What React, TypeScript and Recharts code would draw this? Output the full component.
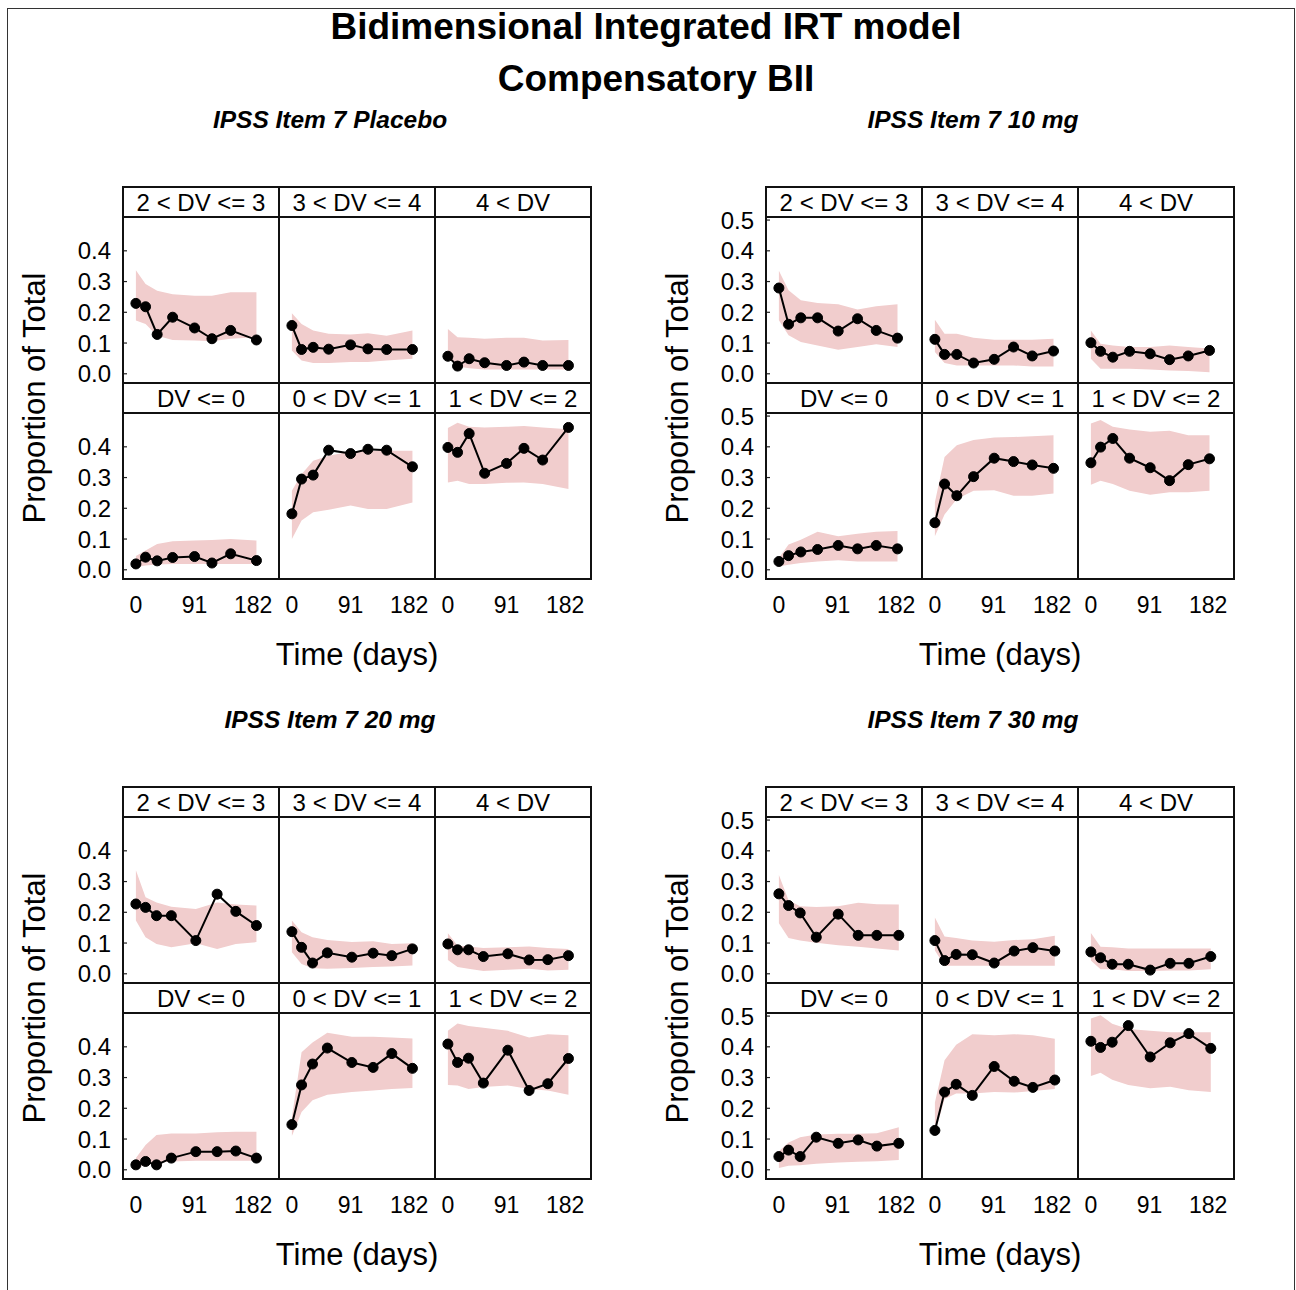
import React from "react";
import { Area, ComposedChart, Line, XAxis, YAxis } from "recharts";

const FONT = "Arial, 'Liberation Sans', sans-serif";
const PINK = "#f1cdcd";

const categories = ["2 < DV <= 3", "3 < DV <= 4", "4 < DV", "DV <= 0", "0 < DV <= 1", "1 < DV <= 2"];
const panelTitles = ["IPSS Item 7 Placebo", "IPSS Item 7 10 mg", "IPSS Item 7 20 mg", "IPSS Item 7 30 mg"];
const xTicks = [0, 91, 182];
const yTicks4 = [0, 0.1, 0.2, 0.3, 0.4];
const yTicks5 = [0, 0.1, 0.2, 0.3, 0.4, 0.5];

// visit times (days) per panel
const timesPlacebo = [0, 15, 33, 57, 91, 118, 147, 187];
const times10 = [0, 15, 34, 60, 92, 122, 151, 184];
const times20 = [0, 15, 32, 55, 93, 126, 155, 187];
const times30 = [0, 15, 33, 58, 92, 123, 152, 186];

// observed proportions, one row per category (order as in categories)
const obsPlacebo = [
  [0.229, 0.218, 0.128, 0.184, 0.149, 0.114, 0.141, 0.11],
  [0.157, 0.079, 0.086, 0.08, 0.094, 0.081, 0.079, 0.079],
  [0.057, 0.025, 0.049, 0.036, 0.027, 0.038, 0.027, 0.027],
  [0.019, 0.041, 0.029, 0.04, 0.043, 0.022, 0.052, 0.03],
  [0.182, 0.295, 0.308, 0.389, 0.378, 0.392, 0.389, 0.335],
  [0.398, 0.382, 0.443, 0.314, 0.346, 0.395, 0.357, 0.463],
];
const loPlacebo = [
  [0.173, 0.162, 0.124, 0.11, 0.108, 0.106, 0.114, 0.119],
  [0.076, 0.043, 0.035, 0.035, 0.038, 0.038, 0.043, 0.049],
  [0.054, 0.024, 0.018, 0.014, 0.014, 0.014, 0.014, 0.014],
  [0.009, 0.014, 0.017, 0.019, 0.019, 0.019, 0.019, 0.019],
  [0.1, 0.16, 0.187, 0.195, 0.209, 0.198, 0.198, 0.219],
  [0.284, 0.29, 0.279, 0.279, 0.283, 0.284, 0.279, 0.263],
];
const hiPlacebo = [
  [0.337, 0.292, 0.27, 0.259, 0.254, 0.254, 0.265, 0.265],
  [0.197, 0.162, 0.141, 0.13, 0.128, 0.132, 0.124, 0.141],
  [0.146, 0.119, 0.117, 0.114, 0.117, 0.117, 0.108, 0.11],
  [0.045, 0.063, 0.084, 0.093, 0.095, 0.097, 0.1, 0.095],
  [0.257, 0.311, 0.355, 0.371, 0.385, 0.387, 0.387, 0.387],
  [0.461, 0.478, 0.465, 0.463, 0.465, 0.468, 0.463, 0.457],
];

const obs10 = [
  [0.279, 0.161, 0.182, 0.182, 0.139, 0.179, 0.141, 0.116],
  [0.112, 0.063, 0.063, 0.035, 0.047, 0.087, 0.058, 0.074],
  [0.101, 0.073, 0.054, 0.073, 0.065, 0.046, 0.058, 0.076],
  [0.027, 0.046, 0.058, 0.066, 0.079, 0.068, 0.079, 0.068],
  [0.153, 0.279, 0.241, 0.303, 0.363, 0.352, 0.341, 0.33],
  [0.348, 0.399, 0.427, 0.363, 0.332, 0.29, 0.342, 0.361],
];
const lo10 = [
  [0.174, 0.125, 0.103, 0.092, 0.078, 0.087, 0.096, 0.087],
  [0.071, 0.035, 0.027, 0.027, 0.027, 0.027, 0.024, 0.024],
  [0.049, 0.016, 0.016, 0.016, 0.014, 0.011, 0.009, 0.005],
  [0.011, 0.016, 0.022, 0.027, 0.031, 0.027, 0.027, 0.027],
  [0.109, 0.18, 0.23, 0.257, 0.259, 0.241, 0.241, 0.248],
  [0.277, 0.29, 0.279, 0.257, 0.244, 0.252, 0.252, 0.257],
];
const hi10 = [
  [0.335, 0.272, 0.239, 0.23, 0.226, 0.209, 0.22, 0.226],
  [0.176, 0.13, 0.13, 0.117, 0.111, 0.111, 0.111, 0.114],
  [0.141, 0.098, 0.092, 0.087, 0.087, 0.092, 0.087, 0.082],
  [0.038, 0.082, 0.098, 0.124, 0.109, 0.117, 0.124, 0.126],
  [0.22, 0.367, 0.405, 0.422, 0.43, 0.432, 0.434, 0.438],
  [0.476, 0.487, 0.465, 0.456, 0.449, 0.452, 0.438, 0.438],
];

const obs20 = [
  [0.227, 0.216, 0.189, 0.189, 0.108, 0.259, 0.203, 0.157],
  [0.137, 0.086, 0.035, 0.068, 0.054, 0.067, 0.059, 0.081],
  [0.097, 0.078, 0.078, 0.056, 0.065, 0.045, 0.046, 0.059],
  [0.016, 0.027, 0.016, 0.038, 0.059, 0.059, 0.061, 0.038],
  [0.147, 0.276, 0.344, 0.396, 0.349, 0.333, 0.378, 0.33],
  [0.409, 0.349, 0.363, 0.282, 0.389, 0.258, 0.28, 0.362],
];
const lo20 = [
  [0.173, 0.119, 0.097, 0.086, 0.099, 0.081, 0.097, 0.103],
  [0.07, 0.032, 0.018, 0.016, 0.019, 0.022, 0.024, 0.027],
  [0.045, 0.022, 0.016, 0.009, 0.013, 0.016, 0.011, 0.013],
  [0.008, 0.016, 0.022, 0.027, 0.029, 0.029, 0.029, 0.029],
  [0.11, 0.188, 0.226, 0.244, 0.253, 0.258, 0.263, 0.266],
  [0.276, 0.274, 0.263, 0.269, 0.274, 0.263, 0.258, 0.244],
];
const hi20 = [
  [0.337, 0.249, 0.232, 0.218, 0.211, 0.232, 0.225, 0.222],
  [0.173, 0.135, 0.119, 0.11, 0.103, 0.106, 0.097, 0.099],
  [0.132, 0.092, 0.089, 0.084, 0.086, 0.089, 0.084, 0.081],
  [0.038, 0.081, 0.113, 0.118, 0.118, 0.122, 0.124, 0.124],
  [0.17, 0.382, 0.414, 0.446, 0.433, 0.433, 0.43, 0.427],
  [0.452, 0.476, 0.468, 0.462, 0.452, 0.43, 0.441, 0.438],
];

const obs30 = [
  [0.26, 0.222, 0.198, 0.119, 0.194, 0.125, 0.125, 0.125],
  [0.108, 0.043, 0.063, 0.062, 0.035, 0.074, 0.085, 0.074],
  [0.071, 0.052, 0.031, 0.031, 0.012, 0.034, 0.034, 0.056],
  [0.043, 0.064, 0.043, 0.106, 0.086, 0.097, 0.077, 0.086],
  [0.128, 0.253, 0.278, 0.242, 0.336, 0.288, 0.268, 0.292],
  [0.418, 0.398, 0.415, 0.469, 0.367, 0.413, 0.443, 0.395],
];
const lo30 = [
  [0.164, 0.116, 0.108, 0.101, 0.093, 0.088, 0.082, 0.076],
  [0.076, 0.026, 0.026, 0.026, 0.026, 0.026, 0.026, 0.026],
  [0.043, 0.015, 0.015, 0.009, 0.009, 0.011, 0.011, 0.015],
  [0.006, 0.013, 0.015, 0.02, 0.024, 0.026, 0.028, 0.032],
  [0.117, 0.23, 0.248, 0.248, 0.253, 0.251, 0.256, 0.263],
  [0.305, 0.316, 0.293, 0.276, 0.265, 0.27, 0.259, 0.253],
];
const hi30 = [
  [0.321, 0.239, 0.22, 0.217, 0.22, 0.231, 0.226, 0.225],
  [0.183, 0.121, 0.116, 0.108, 0.104, 0.11, 0.112, 0.124],
  [0.133, 0.088, 0.086, 0.082, 0.082, 0.082, 0.082, 0.082],
  [0.06, 0.089, 0.106, 0.115, 0.117, 0.117, 0.119, 0.138],
  [0.219, 0.356, 0.407, 0.441, 0.438, 0.441, 0.438, 0.426],
  [0.492, 0.503, 0.475, 0.458, 0.452, 0.447, 0.447, 0.447],
];

const panels = [
  { title: panelTitles[0], gx: 123, gy: 187, times: timesPlacebo, obs: obsPlacebo, lo: loPlacebo, hi: hiPlacebo, yTicks: yTicks4 },
  { title: panelTitles[1], gx: 766, gy: 187, times: times10, obs: obs10, lo: lo10, hi: hi10, yTicks: yTicks5 },
  { title: panelTitles[2], gx: 123, gy: 787, times: times20, obs: obs20, lo: lo20, hi: hi20, yTicks: yTicks4 },
  { title: panelTitles[3], gx: 766, gy: 787, times: times30, obs: obs30, lo: lo30, hi: hi30, yTicks: yTicks5 },
];

const COL_W = 156;
const STRIP_H = 30;
const PLOT_H = 166;
const YAX_W = 60;
const XAX_H = 40;
const X_DOMAIN = [-20, 222];
const Y_DOMAIN = [-0.03, 0.51];
const tickStyle = { fontSize: 23, fill: "#000", fontFamily: FONT };

function Cell({ data, left, bottom, yTicks, x, y }: any) {
  const w = COL_W + (left ? YAX_W : 0);
  const h = PLOT_H + (bottom ? XAX_H : 0);
  return (
    <div style={{ position: "absolute", left: x - (left ? YAX_W : 0), top: y }}>
      <ComposedChart width={w} height={h} data={data} margin={{ top: 0, right: 0, bottom: 0, left: 0 }}>
        <XAxis
          dataKey="t"
          type="number"
          domain={X_DOMAIN}
          ticks={xTicks}
          hide={!bottom}
          height={XAX_H}
          tickLine={false}
          axisLine={false}
          tickMargin={12}
          tick={tickStyle}
          interval={0}
        />
        <YAxis
          type="number"
          domain={Y_DOMAIN}
          ticks={yTicks}
          hide={!left}
          width={YAX_W}
          tickLine={{ stroke: "#222", strokeWidth: 1.2 }}
          tickSize={-4}
          axisLine={false}
          tickMargin={16}
          tick={{ ...tickStyle, fontSize: 24 }}
          interval={0}
          tickFormatter={(v: number) => v.toFixed(1)}
        />
        <Area dataKey="band" type="linear" fill={PINK} fillOpacity={1} stroke="none" isAnimationActive={false} activeDot={false} />
        <Line
          dataKey="obs"
          type="linear"
          stroke="#000"
          strokeWidth={2}
          dot={{ r: 5, fill: "#000", stroke: "#000", strokeWidth: 1 }}
          activeDot={false}
          isAnimationActive={false}
        />
      </ComposedChart>
    </div>
  );
}

function Panel({ p }: any) {
  const gridW = COL_W * 3;
  const gridH = (STRIP_H + PLOT_H) * 2;
  const cells = categories.map((cat, i) => {
    const row = Math.floor(i / 3);
    const col = i % 3;
    const data = p.times.map((t: number, k: number) => ({
      t,
      obs: p.obs[i][k],
      band: [p.lo[i][k], p.hi[i][k]],
    }));
    const cx = p.gx + col * COL_W;
    const sy = p.gy + row * (STRIP_H + PLOT_H);
    return (
      <React.Fragment key={cat}>
        <div
          style={{
            position: "absolute",
            left: cx,
            top: sy,
            width: COL_W,
            height: STRIP_H,
            lineHeight: STRIP_H + 1 + "px",
            textAlign: "center",
            fontSize: 24,
            fontFamily: FONT,
            color: "#000",
            whiteSpace: "nowrap",
          }}
        >
          {cat}
        </div>
        <Cell data={data} left={col === 0} bottom={row === 1} yTicks={p.yTicks} x={cx} y={sy + STRIP_H} />
      </React.Fragment>
    );
  });
  const lines = [];
  for (let c = 1; c < 3; c++) lines.push(<line key={"c" + c} x1={c * COL_W} x2={c * COL_W} y1={0} y2={gridH} />);
  lines.push(<line key="r1" x1={0} x2={gridW} y1={STRIP_H} y2={STRIP_H} />);
  lines.push(<line key="r2" x1={0} x2={gridW} y1={STRIP_H + PLOT_H} y2={STRIP_H + PLOT_H} />);
  lines.push(<line key="r3" x1={0} x2={gridW} y1={2 * STRIP_H + PLOT_H} y2={2 * STRIP_H + PLOT_H} />);
  return (
    <>
      {cells}
      <svg
        width={gridW + 2}
        height={gridH + 2}
        style={{ position: "absolute", left: p.gx - 1, top: p.gy - 1, pointerEvents: "none" }}
      >
        <g transform="translate(1,1)" stroke="#111" strokeWidth={2} fill="none">
          <rect x={0} y={0} width={gridW} height={gridH} />
          {lines}
        </g>
      </svg>
      <div
        style={{
          position: "absolute",
          left: p.gx + gridW / 2 - 27 - 200,
          top: p.gy - 67 - 15,
          width: 400,
          textAlign: "center",
          fontSize: 24.5,
          lineHeight: "30px",
          fontWeight: "bold",
          fontStyle: "italic",
          fontFamily: FONT,
        }}
      >
        {p.title}
      </div>
      <div
        style={{
          position: "absolute",
          left: p.gx - 88 - 200,
          top: p.gy + STRIP_H + (gridH - STRIP_H) / 2 - 20,
          width: 400,
          height: 40,
          lineHeight: "40px",
          textAlign: "center",
          fontSize: 31,
          fontFamily: FONT,
          transform: "rotate(-90deg)",
          whiteSpace: "nowrap",
        }}
      >
        Proportion of Total
      </div>
      <div
        style={{
          position: "absolute",
          left: p.gx + gridW / 2 - 200,
          top: p.gy + 468 - 20,
          width: 400,
          height: 40,
          lineHeight: "40px",
          textAlign: "center",
          fontSize: 31,
          fontFamily: FONT,
        }}
      >
        Time (days)
      </div>
    </>
  );
}

export default function App() {
  return (
    <div
      style={{
        position: "absolute",
        left: 0,
        top: 0,
        width: 1296,
        height: 1290,
        overflow: "hidden",
        background: "#fff",
        fontFamily: FONT,
      }}
    >
      <style>{`.recharts-surface, .recharts-wrapper { overflow: visible !important; }`}</style>
      <div
        style={{
          position: "absolute",
          left: 7,
          top: 8,
          width: 1286,
          height: 1320,
          border: "1.5px solid #333",
        }}
      />
      <div
        style={{
          position: "absolute",
          left: -2,
          top: 5,
          width: 1296,
          textAlign: "center",
          fontSize: 37,
          fontWeight: "bold",
          lineHeight: "44px",
        }}
      >
        Bidimensional Integrated IRT model
      </div>
      <div
        style={{
          position: "absolute",
          left: 8,
          top: 57,
          width: 1296,
          textAlign: "center",
          fontSize: 37,
          fontWeight: "bold",
          lineHeight: "44px",
        }}
      >
        Compensatory BII
      </div>
      {panels.map((p) => (
        <Panel key={p.title} p={p} />
      ))}
    </div>
  );
}
